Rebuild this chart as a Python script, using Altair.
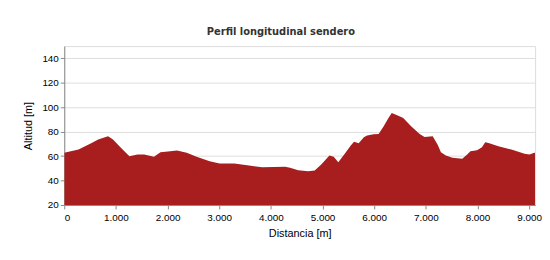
import altair as alt
import pandas as pd

dist = [0, 276, 530, 657, 848, 943, 1101, 1261, 1419, 1547, 1737, 1863, 2053, 2181,
        2371, 2562, 2815, 3006, 3291, 3577, 3832, 4276, 4371, 4530, 4720, 4848, 4975,
        5133, 5216, 5305, 5419, 5547, 5610, 5700, 5800, 5863, 5990, 6086, 6181, 6276,
        6340, 6467, 6562, 6720, 6880, 6975, 7133, 7229, 7292, 7387, 7514, 7705, 7800,
        7863, 7990, 8086, 8149, 8213, 8404, 8657, 8911, 9006, 9101, 9115]
alt_m = [62.7, 65.4, 70.8, 73.5, 76.2, 73.5, 66.7, 59.9, 61.3, 61.3, 59.4, 63.2, 64.0, 64.5,
         62.7, 59.4, 55.8, 54.0, 54.0, 52.3, 50.9, 51.3, 50.5, 48.5, 47.7, 48.3, 53.1,
         60.5, 59.4, 55.0, 61.3, 68.6, 71.8, 70.5, 75.5, 76.8, 77.8, 78.1, 84.3, 91.2,
         95.2, 93.0, 91.2, 84.3, 78.1, 75.7, 76.2, 69.4, 63.2, 60.5, 58.6, 57.8, 61.3,
         64.0, 64.8, 67.2, 71.3, 70.8, 68.0, 65.4, 61.9, 61.3, 62.7, 62.8]
x_ticks = [0, 1000, 2000, 3000, 4000, 5000, 6000, 7000, 8000, 9000]
y_ticks = [20, 40, 60, 80, 100, 120, 140]

df = pd.DataFrame({"Distancia": dist, "Altitud": alt_m})

chart = alt.Chart(df).mark_area(color="#a81e1e", clip=True, opacity=1).encode(
    x=alt.X("Distancia:Q",
            scale=alt.Scale(domain=[0, 9115], nice=False, zero=False),
            axis=alt.Axis(title="Distancia [m]", values=x_ticks, grid=False,
                          labelExpr="replace(format(datum.value, ','), ',', '.')",
                          tickSize=4, labelPadding=4, titlePadding=5,
                          titleFontWeight="normal")),
    y=alt.Y("Altitud:Q",
            scale=alt.Scale(domain=[20, 150], nice=False, zero=False),
            axis=alt.Axis(title="Altitud [m]", values=y_ticks, grid=True,
                          tickSize=4, labelPadding=2, titlePadding=8,
                          titleFontWeight="normal")),
    y2=alt.datum(20),
).properties(
    width=477,
    height=161,
    autosize=alt.AutoSizeParams(type="none"),
    padding={"left": 57, "top": 37, "right": 7, "bottom": 46},
    title=alt.TitleParams("Perfil longitudinal sendero", fontSize=10, fontWeight="bold",
                          font="DejaVu Sans", color="#333333", offset=9, dx=-19,
                          anchor="middle"),
).configure_view(
    fill="#e9ebef", stroke="#c4c6ca", strokeWidth=1
).configure_axis(
    labelFont="DejaVu Sans", labelFontSize=6.5, labelColor="#555555",
    titleFont="DejaVu Sans", titleFontSize=7.5, titleFontWeight="normal", titleColor="#444444",
    domainColor="#9a9a9a", tickColor="#9a9a9a", gridColor="#d3d6dc", gridWidth=1,
).configure(background="white")

chart.save("out.html", embed_options={"renderer": "svg", "actions": False})
